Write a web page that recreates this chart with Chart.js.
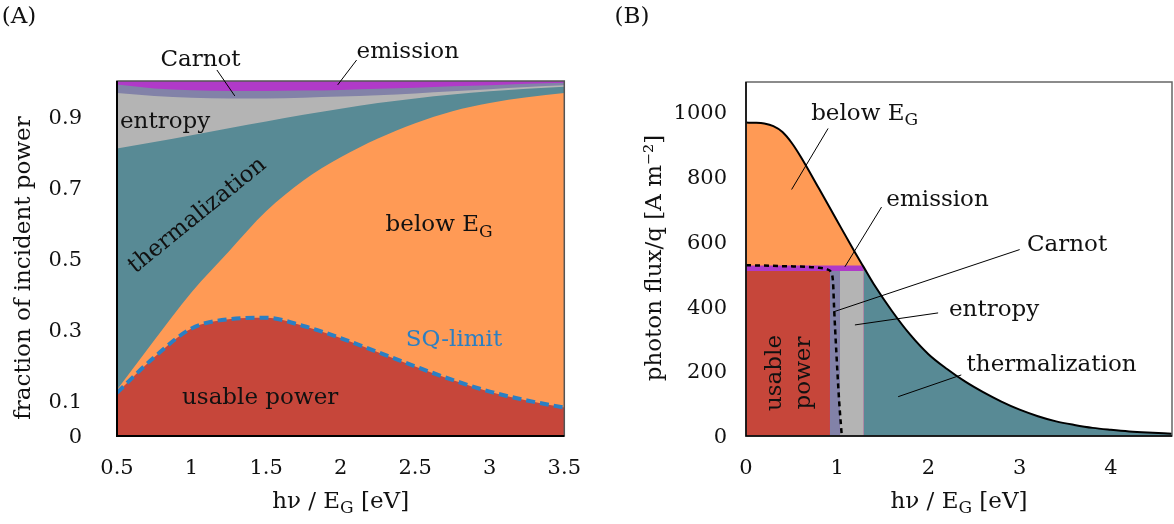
<!DOCTYPE html>
<html>
<head>
<meta charset="utf-8">
<script src="https://cdn.jsdelivr.net/npm/chart.js@4.4.1/dist/chart.umd.min.js"></script>
<style>
  html, body { margin: 0; padding: 0; background: #fff; }
  #wrap { position: relative; width: 1174px; height: 524px; }
  #panelA { position: absolute; left: 0; top: 0; }
  #panelB { position: absolute; left: 590px; top: 0; }
</style>
</head>
<body>
<div id="wrap">
  <canvas id="panelA" width="593" height="524"></canvas>
  <canvas id="panelB" width="584" height="524"></canvas>
</div>
<script>
// ---- panel A: fraction of incident power vs band gap (upper edge of each stacked band)
const gapEnergy   = [0.5, 0.75, 1.0, 1.25, 1.5, 1.75, 2.0, 2.25, 2.5, 2.75, 3.0, 3.25, 3.5];
const edgeUsable  = [0.122, 0.222, 0.303, 0.329, 0.333, 0.310, 0.276, 0.236, 0.196, 0.158, 0.125, 0.100, 0.080];
const edgeBelow   = [0.130, 0.270, 0.405, 0.520, 0.633, 0.720, 0.785, 0.838, 0.881, 0.915, 0.938, 0.954, 0.966];
const edgeTherm   = [0.810, 0.828, 0.847, 0.867, 0.886, 0.905, 0.922, 0.938, 0.951, 0.962, 0.971, 0.978, 0.984];
const edgeEntropy = [0.966, 0.958, 0.953, 0.951, 0.951, 0.953, 0.956, 0.960, 0.965, 0.971, 0.977, 0.983, 0.988];
const edgeCarnot  = [0.990, 0.979, 0.974, 0.972, 0.972, 0.973, 0.975, 0.978, 0.981, 0.985, 0.988, 0.992, 0.995];
const edgeEmission = [1, 1, 1, 1, 1, 1, 1, 1, 1, 1, 1, 1, 1];
const xTicksA = [0.5, 1, 1.5, 2, 2.5, 3, 3.5];
const yTicksA = [0, 0.1, 0.3, 0.5, 0.7, 0.9];

// ---- panel B: photon flux spectrum for one band gap
const photonEnergy = [0, 0.1, 0.2, 0.3, 0.4, 0.5, 0.6, 0.8, 1.0, 1.2, 1.29, 1.4, 1.6, 1.8, 2.0, 2.2, 2.4, 2.6, 2.8, 3.0, 3.2, 3.4, 3.6, 3.8, 4.0, 4.2, 4.4, 4.67];
const photonFlux   = [965, 964.5, 962, 954, 936, 903, 860, 762, 662, 563, 520, 468, 385, 312, 252, 207, 168, 135, 106, 81, 61, 45, 34, 25, 19, 14, 10.5, 7];
const gapIndex = 10; // photonEnergy[10] = band gap edge of the boxes
const bandEdges = [0, 0.92, 1.03, 1.29]; // usable | Carnot | entropy
const usableFlux = 508;
const emissionFlux = 525;
const carnotX = [0, 0.4, 0.8, 0.89, 0.935, 0.955, 0.965, 0.99, 1.02, 1.05];
const carnotY = [526, 523, 518, 513, 503, 470, 400, 260, 112, 0];
const xTicksB = [0, 1, 2, 3, 4];
const yTicksB = [0, 200, 400, 600, 800, 1000];

const colors = {
  usable: '#c6463a',
  below: '#ff9a55',
  therm: '#588a95',
  entropy: '#b4b4b4',
  carnot: '#8282a8',
  emission: '#b03ac8',
  sq: '#2b7fc3'
};
const FONT = '"DejaVu Serif", serif';

const pts = (xs, ys) => xs.map((x, i) => ({ x, y: ys[i] }));
const box = (x0, x1, h) => [{ x: x0, y: h }, { x: x1, y: h }];

function band(data, color) {
  return {
    data, fill: 'origin', backgroundColor: color, borderWidth: 0,
    pointRadius: 0, cubicInterpolationMode: 'monotone'
  };
}

function drawRich(ctx, str, x, y, o) {
  const size = o.size || 23;
  const main = `${size}px ${FONT}`;
  const small = `${Math.round(size * 0.72)}px ${FONT}`;
  const parts = str.split(/(_\w)/).filter(Boolean).map(s =>
    s[0] === '_' ? { t: s.slice(1), sub: true } : { t: s, sub: false });
  let w = 0;
  parts.forEach(p => { ctx.font = p.sub ? small : main; p.w = ctx.measureText(p.t).width; w += p.w; });
  ctx.save();
  ctx.translate(x, y);
  ctx.rotate((o.rotate || 0) * Math.PI / 180);
  ctx.fillStyle = o.color || '#111';
  ctx.textBaseline = 'middle';
  ctx.textAlign = 'left';
  let cx = o.align === 'left' ? 0 : o.align === 'right' ? -w : -w / 2;
  parts.forEach(p => {
    ctx.font = p.sub ? small : main;
    ctx.fillText(p.t, cx, p.sub ? size * 0.3 : 0);
    cx += p.w;
  });
  ctx.restore();
}

// frame, leader lines, labels and axis titles
const notesPlugin = {
  id: 'notes',
  afterDraw(chart, args, opts) {
    const { ctx, chartArea: a, scales: { x, y } } = chart;
    ctx.save();
    ctx.lineWidth = 1.5;
    ctx.strokeStyle = opts.frame;
    ctx.strokeRect(a.left, a.top, a.right - a.left, a.bottom - a.top);
    ctx.strokeStyle = '#000';
    ctx.beginPath();
    ctx.moveTo(a.left, a.top); ctx.lineTo(a.left, a.bottom); ctx.lineTo(a.right, a.bottom);
    ctx.lineWidth = opts.axisWidth;
    ctx.stroke();

    ctx.lineWidth = 1;
    opts.leaders.forEach(([x1, y1, x2, y2]) => {
      ctx.beginPath();
      ctx.moveTo(x.getPixelForValue(x1), y.getPixelForValue(y1));
      ctx.lineTo(x.getPixelForValue(x2), y.getPixelForValue(y2));
      ctx.stroke();
    });
    opts.labels.forEach(l => {
      drawRich(ctx, l.text, x.getPixelForValue(l.x), y.getPixelForValue(l.y), l);
    });
    const midX = (a.left + a.right) / 2;
    drawRich(ctx, opts.xTitle, midX, a.bottom + 66, {});
    drawRich(ctx, opts.yTitle, a.left - opts.yTitleGap, opts.yTitleY, { rotate: -90 });
    drawRich(ctx, opts.panel, opts.panelX, 17, {});
    ctx.restore();
  }
};

function axes(xMin, xMax, xTicks, yMax, yTicks, yWidth, yPad) {
  const tickFont = { family: FONT, size: 21 };
  return {
    x: {
      type: 'linear', min: xMin, max: xMax,
      grid: { display: false }, border: { display: false },
      afterBuildTicks: s => { s.ticks = xTicks.map(v => ({ value: v })); },
      afterFit: s => { s.height = 88; },
      ticks: { color: '#111', font: tickFont, padding: 12, maxRotation: 0, autoSkip: false, callback: v => String(v) }
    },
    y: {
      min: 0, max: yMax,
      grid: { display: false }, border: { display: false },
      afterBuildTicks: s => { s.ticks = yTicks.map(v => ({ value: v })); },
      afterFit: s => { s.width = yWidth; },
      ticks: { color: '#111', font: tickFont, padding: yPad, labelOffset: 2, autoSkip: false, callback: v => String(v) }
    }
  };
}

new Chart(document.getElementById('panelA'), {
  type: 'line',
  data: {
    datasets: [
      {
        data: pts(gapEnergy, edgeUsable), fill: false, borderColor: colors.sq,
        borderWidth: 4, borderDash: [9, 5], pointRadius: 0, cubicInterpolationMode: 'monotone'
      },
      band(pts(gapEnergy, edgeUsable), colors.usable),
      band(pts(gapEnergy, edgeBelow), colors.below),
      band(pts(gapEnergy, edgeTherm), colors.therm),
      band(pts(gapEnergy, edgeEntropy), colors.entropy),
      band(pts(gapEnergy, edgeCarnot), colors.carnot),
      band(pts(gapEnergy, edgeEmission), colors.emission)
    ]
  },
  options: {
    responsive: false,
    animation: false,
    layout: { padding: { top: 81, right: 25, left: 0, bottom: 0 } },
    scales: axes(0.5, 3.5, xTicksA, 1, yTicksA, 117, 27),
    plugins: {
      legend: { display: false },
      tooltip: { enabled: false },
      notes: {
        frame: '#555', axisWidth: 2,
        xTitle: 'hν / E_G [eV]', yTitle: 'fraction of incident power',
        yTitleGap: 93, yTitleY: 268, panel: '(A)', panelX: 19,
        leaders: [[1.17, 1.031, 1.29, 0.958], [2.107, 1.059, 1.98, 0.989]],
        labels: [
          { text: 'Carnot', x: 1.06, y: 1.059 },
          { text: 'emission', x: 2.45, y: 1.082 },
          { text: 'entropy', x: 0.52, y: 0.884, align: 'left' },
          { text: 'thermalization', x: 1.04, y: 0.621, rotate: -39 },
          { text: 'below E_G', x: 2.66, y: 0.593 },
          { text: 'SQ-limit', x: 2.76, y: 0.27, color: colors.sq },
          { text: 'usable power', x: 1.46, y: 0.108 }
        ]
      }
    }
  },
  plugins: [notesPlugin]
});

new Chart(document.getElementById('panelB'), {
  type: 'line',
  data: {
    datasets: [
      {
        data: pts(photonEnergy, photonFlux), fill: false, borderColor: '#000',
        borderWidth: 2, pointRadius: 0, cubicInterpolationMode: 'monotone'
      },
      {
        data: pts(carnotX, carnotY), fill: false, borderColor: '#000',
        borderWidth: 2.5, borderDash: [5, 4], pointRadius: 0, cubicInterpolationMode: 'monotone'
      },
      band(box(bandEdges[0], bandEdges[1], usableFlux), colors.usable),
      band(box(bandEdges[1], bandEdges[2], usableFlux), colors.carnot),
      band(box(bandEdges[2], bandEdges[3], usableFlux), colors.entropy),
      band(box(bandEdges[0], bandEdges[3], emissionFlux), colors.emission),
      band(pts(photonEnergy.slice(0, gapIndex + 1), photonFlux.slice(0, gapIndex + 1)), colors.below),
      band(pts(photonEnergy, photonFlux), colors.therm)
    ]
  },
  options: {
    responsive: false,
    animation: false,
    layout: { padding: { top: 82, right: 2, left: 0, bottom: 0 } },
    scales: axes(0, 4.67, xTicksB, 1090, yTicksB, 156, 11),
    plugins: {
      legend: { display: false },
      tooltip: { enabled: false },
      notes: {
        frame: '#666', axisWidth: 1.5,
        xTitle: 'hν / E_G [eV]', yTitle: 'photon flux/q [A m⁻²]',
        yTitleGap: 91, yTitleY: 258, panel: '(B)', panelX: 42,
        leaders: [
          [0.90, 947, 0.50, 759], [1.486, 705, 1.084, 521], [3.0, 574, 0.956, 382],
          [2.106, 379, 1.194, 342], [2.36, 188, 1.668, 121]
        ],
        labels: [
          { text: 'below E_G', x: 1.30, y: 991 },
          { text: 'emission', x: 2.10, y: 726 },
          { text: 'Carnot', x: 3.52, y: 588 },
          { text: 'entropy', x: 2.72, y: 388 },
          { text: 'thermalization', x: 3.35, y: 218 },
          { text: 'usable', x: 0.32, y: 194, rotate: -90 },
          { text: 'power', x: 0.64, y: 194, rotate: -90 }
        ]
      }
    }
  },
  plugins: [notesPlugin]
});
</script>
</body>
</html>
